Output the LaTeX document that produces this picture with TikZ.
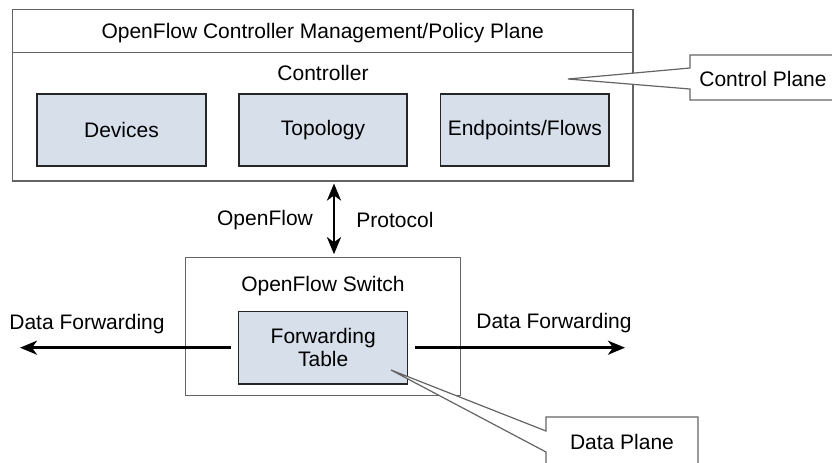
\documentclass[tikz,border=0pt]{standalone}
\usepackage{fontspec}
\setmainfont{Liberation Sans}
\usetikzlibrary{arrows.meta}
\definecolor{boxfill}{RGB}{214,223,234}
\definecolor{framegray}{RGB}{100,100,100}
\tikzset{
  frame/.style={draw=framegray, line width=0.7pt, fill=white, inner sep=0pt},
  inbox/.style={draw=black!85, line width=0.6pt, fill=boxfill, inner sep=0pt, align=center},
  lbl/.style={inner sep=0pt, font=\fontsize{10.5}{12.6}\selectfont, align=center},
  thickarrow/.style={line width=1.4pt, -{Stealth[length=8.5pt,width=7pt,inset=2.5pt]}},
  dblarrow/.style={line width=1.4pt, {Stealth[length=8.5pt,width=7pt,inset=2.5pt]}-{Stealth[length=8.5pt,width=7pt,inset=2.5pt]}},
  callout/.style={draw=framegray, line width=0.6pt}
}
\begin{document}
\begin{tikzpicture}[x=0.5pt,y=-0.5pt, font=\fontsize{10.5}{12.6}\selectfont]
\useasboundingbox (0,0) rectangle (832,462);
% controller frame
\node[frame, minimum width=310.25pt, minimum height=85.85pt] (ctrl) at (322.75,95.15) {};
\draw[framegray, line width=0.7pt] (ctrl.west |- 0,52.5) -- (ctrl.east |- 0,52.5);
\node[lbl] (title) at (322.75,33) {OpenFlow Controller Management/Policy Plane};
\node[lbl] (controller) at (323,73) {Controller};
\node[inbox, minimum width=84.5pt, minimum height=36pt] (dev) at (121.5,130) {Devices};
\node[inbox, minimum width=84pt, minimum height=36pt] (topo) at (323,130) {Topology};
\node[inbox, minimum width=84.2pt, minimum height=36pt] (endp) at (524.8,130) {Endpoints/Flows};
% switch
\node[frame, minimum width=137.5pt, minimum height=68.9pt] (sw) at (323,326.6) {};
\node[lbl] (swlbl) at (323,286) {OpenFlow Switch};
\node[inbox, minimum width=84.5pt, minimum height=36.15pt, font=\fontsize{10.5}{11.6}\selectfont] (fwd) at (323.2,347.85) {Forwarding\\Table};
% protocol arrow
\coordinate (ax) at (334,0);
\draw[dblarrow] ([yshift=-0.9pt]ctrl.south -| ax) -- ([yshift=1.4pt]sw.north -| ax);
\node[lbl] (of) at (265,220) {OpenFlow};
\node[lbl] (proto) at (395,220) {Protocol};
% data forwarding
\coordinate (ltip) at (20,347.7);
\coordinate (rtip) at (625,347.7);
\draw[thickarrow] ([xshift=-3.8pt]fwd.west |- ltip) -- (ltip);
\draw[thickarrow] ([xshift=3.2pt]fwd.east |- rtip) -- (rtip);
\node[lbl] (dfl) at (87,324) {Data Forwarding};
\node[lbl] (dfr) at (554,323) {Data Forwarding};
% control plane callout
\coordinate (cptip) at (568,79);
\draw[callout, fill=white] (690,68) -- (cptip) -- (690,89) -- (690,100) -- (845,100) -- (845,55) -- (690,55) -- cycle;
\draw[white, line width=0.8pt] (690,68.6) -- (690,88.4);
\node[lbl] (cp) at (763,79) {Control Plane};
% data plane callout
\coordinate (dptip) at (391,370);
\draw[callout, fill=white] (546,431) -- (dptip) -- (546,452) -- (546,475) -- (698,475) -- (698,417) -- (546,417) -- cycle;
\draw[white, line width=0.8pt] (546,431.6) -- (546,451.4);
\node[lbl] (dp) at (622,442) {Data Plane};
\end{tikzpicture}
\end{document}
